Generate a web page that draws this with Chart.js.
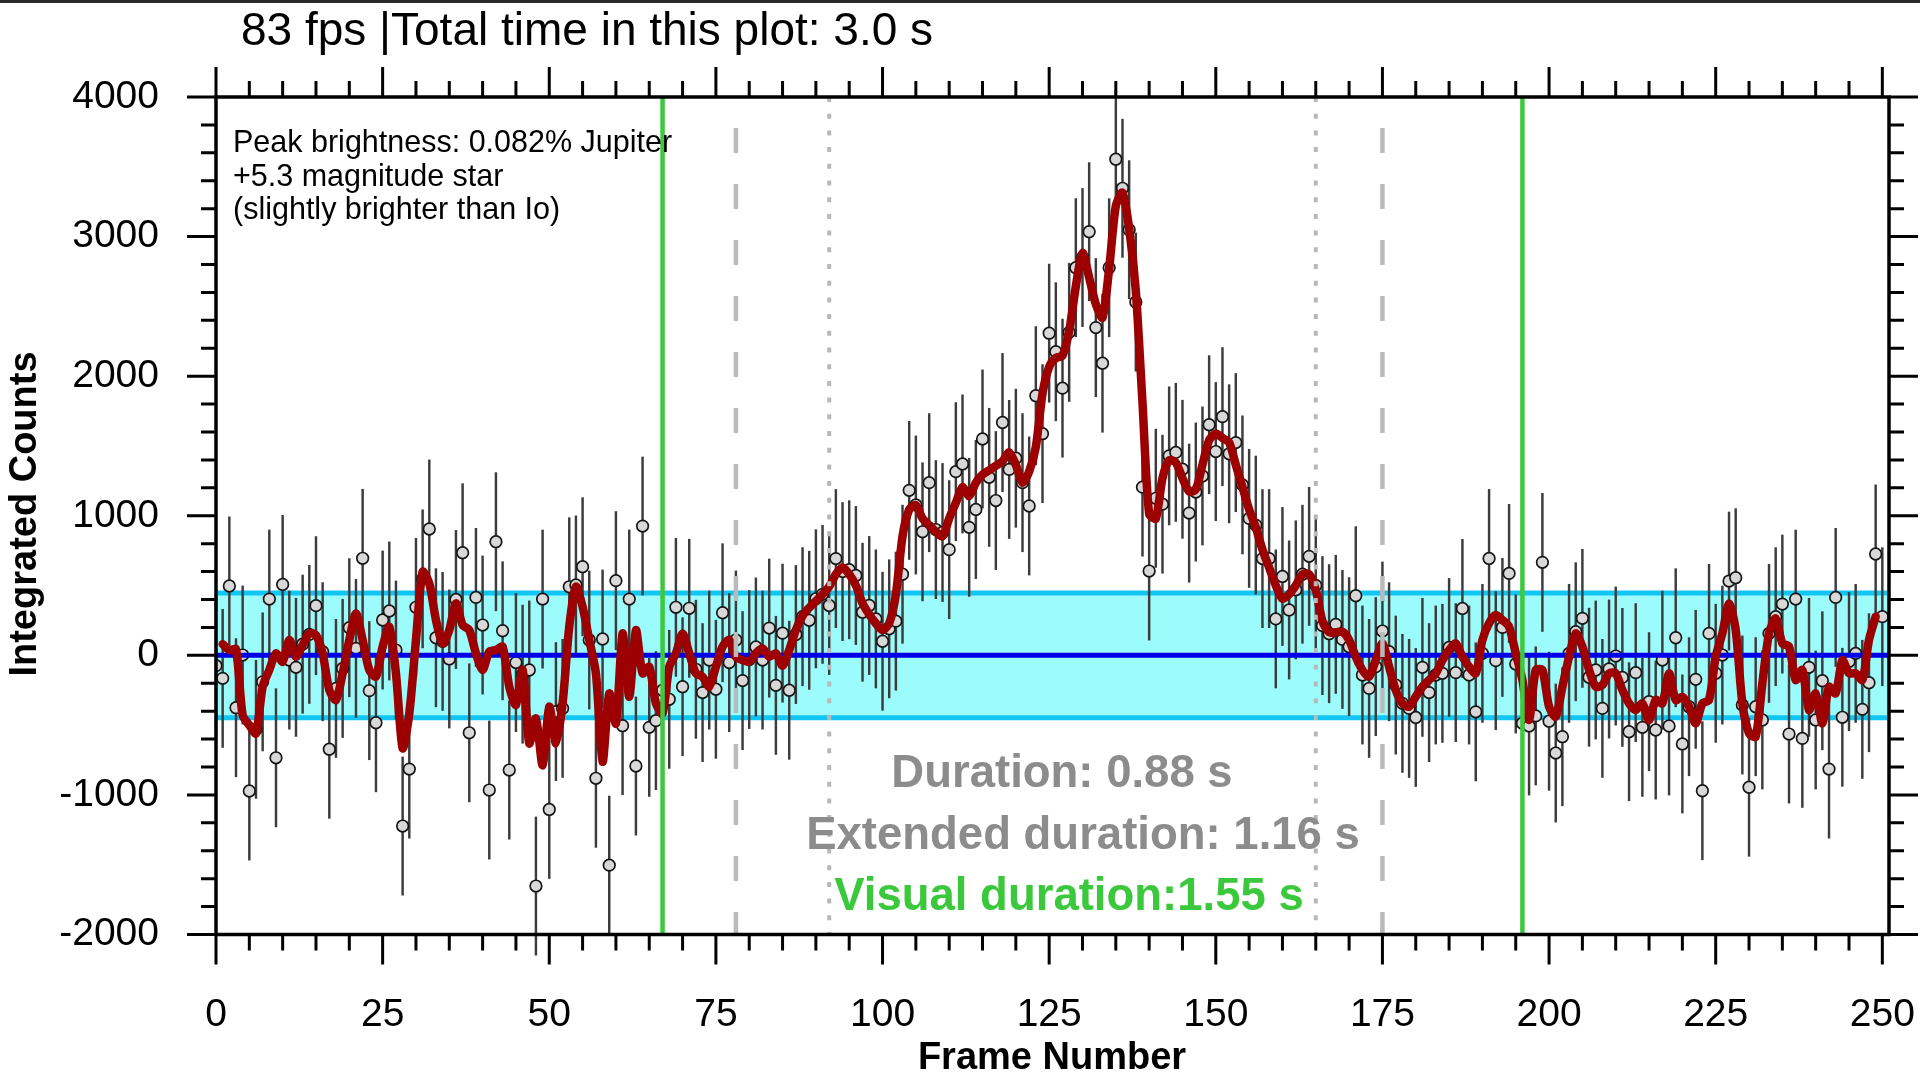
<!DOCTYPE html>
<html>
<head>
<meta charset="utf-8">
<title>Integrated Counts vs Frame Number</title>
<script src="https://cdn.jsdelivr.net/npm/chart.js@4.4.1/dist/chart.umd.min.js"></script>
<style>
  html, body { margin: 0; padding: 0; background: #fff; }
  #wrap { position: relative; width: 1920px; height: 1075px; }
  #topStrip { position: absolute; left: 0; top: 0; width: 1920px; height: 3px; background: #2a2a2a; }
</style>
</head>
<body>
<div id="wrap">
  <canvas id="lightCurve"></canvas>
  <div id="topStrip"></div>
</div>
<script>
// integrated counts per frame, frames 0..250
const counts = [
  -74, -165, 497, -375, 2, -972, -530, -190, 403, -734,
  508, -34, -86, 80, 150, 356, 26, -673, -237, -94,
  198, 50, 695, -253, -483, 253, 318, 38, -1223, -815,
  344, 548, 905, 126, 100, -26, 400, 735, -555, 415,
  217, -965, 814, 176, -822, -52, -135, -105, -1653, 403,
  -1104, -403, -380, 491, 504, 635, 110, -881, 117, -1503,
  535, -504, 403, -793, 926, -516, -468, -250, -315, 344,
  -225, 337, -100, -267, -34, -243, 305, -52, 110, -181,
  -30, 60, -34, 195, -215, 159, -250, 149, 277, 251,
  405, 437, 357, 693, 600, 613, 572, 309, 357, 261,
  101, 190, 245, 581, 1182, 1077, 885, 1237, 901, 880,
  757, 1316, 1371, 917, 1045, 1550, 1275, 1109, 1668, 1332,
  1412, 1237, 1070, 1860, 1588, 2308, 2175, 1914, 2314, 2777,
  2850, 3035, 2348, 2093, 2777, 3554, 3346, 3049, 2531, 1205,
  604, 1125, 1083, 1429, 1454, 1333, 1019, 1170, 1285, 1652,
  1460, 1710, 1444, 1524, 1221, 981, 933, 693, 693, 261,
  565, 325, 469, 581, 709, 501, 213, 155, 222, 114,
  62, 427, -141, -237, -81, 174, 26, -213, -344, -380,
  -445, -86, -267, -141, -129, 56, -124, 336, -141, -405,
  14, 694, -38, 200, 587, -62, -487, -506, -434, 666,
  -472, -700, -583, 14, 169, 265, -157, -105, -380, -98,
  -5, -158, -547, -124, -516, -332, -535, -34, -506, 126,
  -635, -368, -172, -970, 157, -129, 2, 532, 556, -356,
  -945, -368, -463, 157, 277, 367, -564, 403, -595, -86,
  -463, -182, -815, 415, -444, -45, 14, -387, -196, 726,
  277
];

// smoothed curve, frames 1..249
const smoothStart = 1;
const smoothed = [
  80, 38, 43, -430, -500, -560, -224, -105, 14,
  -46, 110, -10, 74, 157, 145, 14, -249, -320, -129,
  110, 300, 110, -105, -153, 62, 205, -129, -666, -416,
  110, 599, 515, 253, 86, 181, 372, 217, 181, 14,
  -105, 26, 38, 62, -225, -356, -105, -631, -452, -787,
  -368, -631, -344, 205, 492, 348, 110, -129, -763, -273,
  -488, 157, -297, 181, -129, -82, -344, -416, -82, 14,
  157, 14, -129, -153, -225, -82, 62, 110, -10, -34,
  -46, 14, 50, -10, 15, -74, 38, 182, 284, 341,
  389, 437, 492, 581, 629, 581, 501, 373, 293, 229,
  181, 229, 437, 853, 1045, 1077, 981, 933, 885, 853,
  981, 1093, 1205, 1141, 1237, 1294, 1326, 1358, 1390, 1454,
  1365, 1237, 1317, 1492, 1876, 2068, 2130, 2148, 2324, 2643,
  2883, 2707, 2515, 2419, 2771, 3219, 3315, 3058, 2611, 1812,
  1013, 981, 1269, 1397, 1381, 1269, 1173, 1189, 1365, 1541,
  1589, 1557, 1525, 1365, 1205, 1045, 917, 757, 629, 501,
  405, 437, 501, 581, 581, 469, 245, 165, 165, 169,
  110, -10, -105, -153, -34, 86, -82, -249, -344, -368,
  -296, -225, -177, -129, -34, 38, 86, -10, -82, -129,
  110, 229, 289, 253, 205, 14, -177, -463, -105, -105,
  -368, -440, -225, -10, 157, 62, -105, -225, -213, -129,
  -129, -249, -344, -392, -344, -464, -320, -344, -129, -320,
  -297, -368, -487, -344, -320, -10, 157, 372, 181, -344,
  -559, -583, -201, 157, 265, 86, 62, -177, -105, -392,
  -273, -487, -225, -273, -34, -129, -129, -177, 110, 277
];

const errorHalf = 495;        // half length of each error bar
const bandHalf = 447;         // noise band, +/- counts
const greenLines = [67, 196]; // visual duration limits
const dashedLines = [78, 175];
const dottedLines = [92, 165];

const xMin = 0, xMax = 251, xStep = 25, xMinor = 5;
const yMin = -2000, yMax = 4000, yStep = 1000, yMinor = 200;

const titleText = '83 fps |Total time in this plot: 3.0 s';
const noteLines = ['Peak brightness: 0.082% Jupiter', '+5.3 magnitude star', '(slightly brighter than Io)'];
const durationLines = ['Duration: 0.88 s', 'Extended duration: 1.16 s', 'Visual duration:1.55 s'];

const FONT = '"Liberation Sans", Arial, Helvetica, sans-serif';

function vline(x, color, width, dash, dashOffset, order) {
  return {
    type: 'line',
    data: [{x: x, y: yMax}, {x: x, y: yMin}],
    borderColor: color,
    borderWidth: width,
    borderDash: dash,
    borderDashOffset: dashOffset,
    pointRadius: 0,
    order: order
  };
}

const frameAndTicks = {
  id: 'frameAndTicks',
  afterDatasetsDraw(chart) {
    const {ctx, chartArea: a, scales: {x, y}} = chart;
    ctx.save();
    ctx.strokeStyle = '#000';
    ctx.lineWidth = 3.5;
    ctx.strokeRect(a.left, a.top, a.right - a.left, a.bottom - a.top);
    ctx.lineWidth = 3;
    ctx.beginPath();
    for (let f = xMin; f <= 250; f += xMinor) {
      const px = x.getPixelForValue(f);
      const len = f % xStep === 0 ? 30 : 16;
      ctx.moveTo(px, a.bottom); ctx.lineTo(px, a.bottom + len);
      ctx.moveTo(px, a.top); ctx.lineTo(px, a.top - len);
    }
    for (let v = yMin; v <= yMax; v += yMinor) {
      const py = y.getPixelForValue(v);
      const len = v % yStep === 0 ? 29 : 15;
      ctx.moveTo(a.left, py); ctx.lineTo(a.left - len, py);
      ctx.moveTo(a.right, py); ctx.lineTo(a.right + len, py);
    }
    ctx.stroke();
    ctx.restore();
  },
  afterDraw(chart) {
    const ctx = chart.ctx;
    ctx.save();
    ctx.fillStyle = '#000';
    ctx.textBaseline = 'alphabetic';
    ctx.textAlign = 'left';
    ctx.font = '46px ' + FONT;
    ctx.fillText(titleText, 241, 45);

    ctx.font = '30.5px ' + FONT;
    ctx.fillText(noteLines[0], 233, 152);
    ctx.fillText(noteLines[1], 233, 186);
    ctx.fillText(noteLines[2], 233, 219);

    ctx.textAlign = 'center';
    ctx.font = 'bold 45.5px ' + FONT;
    ctx.fillStyle = '#8c8c8c';
    ctx.fillText(durationLines[0], 1062, 787);
    ctx.fillText(durationLines[1], 1083, 849);
    ctx.fillStyle = '#3cc83c';
    ctx.fillText(durationLines[2], 1069, 910);

    ctx.fillStyle = '#000';
    ctx.font = 'bold 38px ' + FONT;
    ctx.fillText('Frame Number', 1052, 1069);
    ctx.translate(36, 514);
    ctx.rotate(-Math.PI / 2);
    ctx.fillText('Integrated Counts', 0, 0);
    ctx.restore();
  }
};

const datasets = [];

greenLines.forEach(x => datasets.push(vline(x, '#3dc83d', 4.5, [], 0, 1)));
dashedLines.forEach(x => datasets.push(vline(x, '#bababa', 4.5, [25, 31], 25, 1)));
dottedLines.forEach(x => datasets.push(vline(x, '#b8b8b8', 4, [5, 11.7], 0, 1)));

datasets.push({
  type: 'line',
  label: 'smoothed',
  data: smoothed.map((v, i) => ({x: smoothStart + i, y: v})),
  borderColor: '#9c0000',
  borderWidth: 8.5,
  borderJoinStyle: 'round',
  borderCapStyle: 'round',
  tension: 0.25,
  pointRadius: 0,
  order: 2
});

datasets.push({
  type: 'line',
  label: 'zero',
  data: [{x: xMin, y: 0}, {x: xMax, y: 0}],
  borderColor: '#0000e6',
  borderWidth: 5,
  pointRadius: 0,
  order: 3
});

datasets.push({
  type: 'scatter',
  label: 'counts',
  data: counts.map((v, i) => ({x: i, y: v})),
  pointRadius: 5.8,
  pointBackgroundColor: '#d8d8d8',
  pointBorderColor: '#151515',
  pointBorderWidth: 1.7,
  order: 4
});

datasets.push({
  type: 'bar',
  label: 'error',
  data: counts.map((v, i) => ({x: i, y: [v - errorHalf, v + errorHalf]})),
  backgroundColor: '#3c3c3c',
  barThickness: 1.8,
  clip: false,
  order: 5
});

datasets.push({
  type: 'line',
  label: 'bandLow',
  data: [{x: xMin, y: -bandHalf}, {x: xMax, y: -bandHalf}],
  borderColor: '#12c6f4',
  borderWidth: 5,
  pointRadius: 0,
  order: 10
});

datasets.push({
  type: 'line',
  label: 'bandHigh',
  data: [{x: xMin, y: bandHalf}, {x: xMax, y: bandHalf}],
  borderColor: '#12c6f4',
  borderWidth: 5,
  backgroundColor: '#9cfbfb',
  fill: {target: {value: -bandHalf}},
  pointRadius: 0,
  order: 11
});

new Chart(document.getElementById('lightCurve'), {
  type: 'scatter',
  data: {datasets: datasets},
  options: {
    responsive: true,
    maintainAspectRatio: false,
    animation: false,
    events: [],
    layout: {padding: {top: 97, right: 31, left: 0, bottom: 0}},
    plugins: {legend: {display: false}, title: {display: false}, tooltip: {enabled: false}},
    scales: {
      x: {
        type: 'linear',
        min: xMin,
        max: xMax,
        offset: false,
        grid: {display: false, drawTicks: false},
        border: {display: false},
        ticks: {
          stepSize: xStep,
          includeBounds: false,
          autoSkip: false,
          maxRotation: 0,
          padding: 57,
          color: '#000',
          font: {family: FONT, size: 39},
          callback: v => String(v)
        },
        afterFit(s) { s.height = 140.5; s.paddingLeft = 0; s.paddingRight = 0; }
      },
      y: {
        type: 'linear',
        min: yMin,
        max: yMax,
        grid: {display: false, drawTicks: false},
        border: {display: false},
        ticks: {
          stepSize: yStep,
          padding: 57,
          color: '#000',
          font: {family: FONT, size: 39},
          callback: v => String(v)
        },
        afterFit(s) { s.width = 216; s.paddingTop = 0; s.paddingBottom = 0; }
      }
    }
  },
  plugins: [frameAndTicks]
});
</script>
</body>
</html>
